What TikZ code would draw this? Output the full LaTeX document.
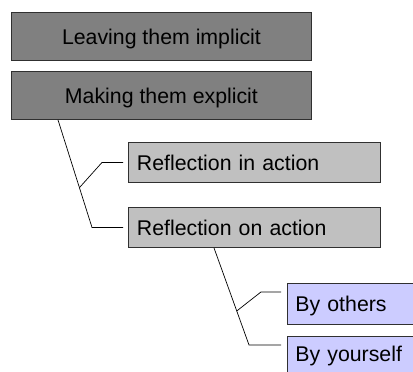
\documentclass[tikz,border=0pt]{standalone}
\usepackage{fontspec}
\setmainfont{Liberation Sans}
\usetikzlibrary{calc}
\definecolor{darkfill}{HTML}{808080}
\definecolor{midfill}{HTML}{C0C0C0}
\definecolor{lilac}{HTML}{CCCCFF}
\definecolor{edge}{HTML}{303030}
\tikzset{
  box/.style={draw=edge, line width=0.9pt, anchor=north west, inner sep=0pt,
    text height=16pt, text depth=0pt,
    font=\fontsize{21.3}{25}\selectfont},
  topbox/.style={box, fill=darkfill, minimum width=300pt, minimum height=48pt, align=center},
  midbox/.style={box, fill=midfill, minimum width=252pt, minimum height=40pt,
    text width=235pt, align=left},
  leafbox/.style={box, fill=lilac, minimum width=252pt, minimum height=41pt,
    text width=236pt, align=left},
  link/.style={draw=black, line width=0.7pt}
}
\begin{document}
\begin{tikzpicture}[x=1pt, y=-1pt]
  \useasboundingbox (0,0) rectangle (413,372);
  \clip (0,0) rectangle (413,372);

  % first level
  \node[topbox] (implicit) at (11,12) {Leaving them implicit};
  \node[topbox] (explicit) at (11,71) {Making them explicit};

  % second level
  \node[midbox] (inaction) at (128,142) {Reflection in action};
  \node[midbox] (onaction) at (128,207) {Reflection on action};

  % third level
  \node[leafbox] (others) at (287,283) {By others};
  \node[leafbox, text depth=6pt] (yourself) at (287,336) {By yourself};

  % bracket under "Making them explicit"
  \coordinate (s1) at ($(explicit.south west)+(47,0)$);
  \coordinate (k1) at ($(onaction.west)+(-36,0)$);
  \coordinate (j1) at ($(s1)!0.63!(k1)$);
  \coordinate (e1) at ($(inaction.west)+(-26,0)$);
  \draw[link] (s1) -- (k1) -- ($(onaction.west)+(-5,0)$);
  \draw[link] (j1) -- (e1) -- ($(inaction.west)+(-5,0)$);

  % bracket under "Reflection on action"
  \coordinate (s2) at ($(onaction.south west)+(86,0)$);
  \coordinate (k2) at ($(yourself.west)+(-38,-12)$);
  \coordinate (j2) at ($(s2)!0.65!(k2)$);
  \coordinate (e2) at ($(others.west)+(-26,-12)$);
  \draw[link] (s2) -- (k2) -- ($(yourself.west)+(-6,-12)$);
  \draw[link] (j2) -- (e2) -- ($(others.west)+(-6,-12)$);
\end{tikzpicture}
\end{document}
